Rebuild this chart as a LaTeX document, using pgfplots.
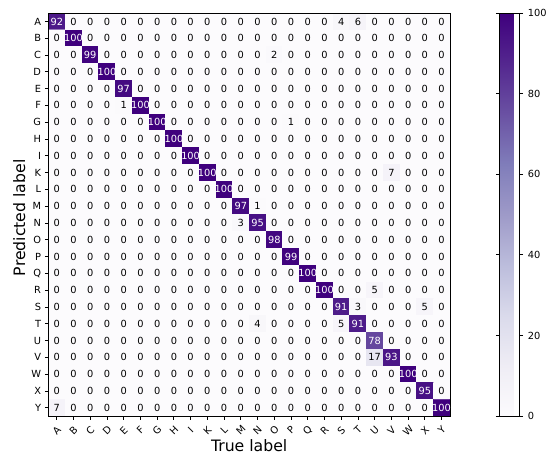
\documentclass[border=0pt]{standalone}
\usepackage{fontspec}
\setmainfont{DejaVu Sans}
\usepackage{pgfplots}
\pgfplotsset{compat=1.18}

\pgfplotsset{
  colormap={purples}{rgb255(0)=(252,251,253) rgb255(1)=(239,237,245)
    rgb255(2)=(218,218,235) rgb255(3)=(188,189,220) rgb255(4)=(158,154,200)
    rgb255(5)=(128,125,186) rgb255(6)=(106,81,163) rgb255(7)=(84,39,143)
    rgb255(8)=(63,0,125)},
  cell text/.style={draw=none, no markers, point meta=explicit symbolic,
    nodes near coords,
    nodes near coords style={anchor=center, inner sep=0pt, text=#1,
      font=\fontsize{10}{11}\selectfont}},
}

% confusion matrix: x = true label index, y = predicted label index, v = count
\pgfplotstableread[row sep=\\]{
x y v\\
0 0 92\\ 1 0 0\\ 2 0 0\\ 3 0 0\\ 4 0 0\\ 5 0 0\\ 6 0 0\\ 7 0 0\\ 8 0 0\\ 9 0 0\\ 10 0 0\\ 11 0 0\\ 12 0 0\\ 13 0 0\\ 14 0 0\\ 15 0 0\\ 16 0 0\\ 17 0 4\\ 18 0 6\\ 19 0 0\\ 20 0 0\\ 21 0 0\\ 22 0 0\\ 23 0 0\\
0 1 0\\ 1 1 100\\ 2 1 0\\ 3 1 0\\ 4 1 0\\ 5 1 0\\ 6 1 0\\ 7 1 0\\ 8 1 0\\ 9 1 0\\ 10 1 0\\ 11 1 0\\ 12 1 0\\ 13 1 0\\ 14 1 0\\ 15 1 0\\ 16 1 0\\ 17 1 0\\ 18 1 0\\ 19 1 0\\ 20 1 0\\ 21 1 0\\ 22 1 0\\ 23 1 0\\
0 2 0\\ 1 2 0\\ 2 2 99\\ 3 2 0\\ 4 2 0\\ 5 2 0\\ 6 2 0\\ 7 2 0\\ 8 2 0\\ 9 2 0\\ 10 2 0\\ 11 2 0\\ 12 2 0\\ 13 2 2\\ 14 2 0\\ 15 2 0\\ 16 2 0\\ 17 2 0\\ 18 2 0\\ 19 2 0\\ 20 2 0\\ 21 2 0\\ 22 2 0\\ 23 2 0\\
0 3 0\\ 1 3 0\\ 2 3 0\\ 3 3 100\\ 4 3 0\\ 5 3 0\\ 6 3 0\\ 7 3 0\\ 8 3 0\\ 9 3 0\\ 10 3 0\\ 11 3 0\\ 12 3 0\\ 13 3 0\\ 14 3 0\\ 15 3 0\\ 16 3 0\\ 17 3 0\\ 18 3 0\\ 19 3 0\\ 20 3 0\\ 21 3 0\\ 22 3 0\\ 23 3 0\\
0 4 0\\ 1 4 0\\ 2 4 0\\ 3 4 0\\ 4 4 97\\ 5 4 0\\ 6 4 0\\ 7 4 0\\ 8 4 0\\ 9 4 0\\ 10 4 0\\ 11 4 0\\ 12 4 0\\ 13 4 0\\ 14 4 0\\ 15 4 0\\ 16 4 0\\ 17 4 0\\ 18 4 0\\ 19 4 0\\ 20 4 0\\ 21 4 0\\ 22 4 0\\ 23 4 0\\
0 5 0\\ 1 5 0\\ 2 5 0\\ 3 5 0\\ 4 5 1\\ 5 5 100\\ 6 5 0\\ 7 5 0\\ 8 5 0\\ 9 5 0\\ 10 5 0\\ 11 5 0\\ 12 5 0\\ 13 5 0\\ 14 5 0\\ 15 5 0\\ 16 5 0\\ 17 5 0\\ 18 5 0\\ 19 5 0\\ 20 5 0\\ 21 5 0\\ 22 5 0\\ 23 5 0\\
0 6 0\\ 1 6 0\\ 2 6 0\\ 3 6 0\\ 4 6 0\\ 5 6 0\\ 6 6 100\\ 7 6 0\\ 8 6 0\\ 9 6 0\\ 10 6 0\\ 11 6 0\\ 12 6 0\\ 13 6 0\\ 14 6 1\\ 15 6 0\\ 16 6 0\\ 17 6 0\\ 18 6 0\\ 19 6 0\\ 20 6 0\\ 21 6 0\\ 22 6 0\\ 23 6 0\\
0 7 0\\ 1 7 0\\ 2 7 0\\ 3 7 0\\ 4 7 0\\ 5 7 0\\ 6 7 0\\ 7 7 100\\ 8 7 0\\ 9 7 0\\ 10 7 0\\ 11 7 0\\ 12 7 0\\ 13 7 0\\ 14 7 0\\ 15 7 0\\ 16 7 0\\ 17 7 0\\ 18 7 0\\ 19 7 0\\ 20 7 0\\ 21 7 0\\ 22 7 0\\ 23 7 0\\
0 8 0\\ 1 8 0\\ 2 8 0\\ 3 8 0\\ 4 8 0\\ 5 8 0\\ 6 8 0\\ 7 8 0\\ 8 8 100\\ 9 8 0\\ 10 8 0\\ 11 8 0\\ 12 8 0\\ 13 8 0\\ 14 8 0\\ 15 8 0\\ 16 8 0\\ 17 8 0\\ 18 8 0\\ 19 8 0\\ 20 8 0\\ 21 8 0\\ 22 8 0\\ 23 8 0\\
0 9 0\\ 1 9 0\\ 2 9 0\\ 3 9 0\\ 4 9 0\\ 5 9 0\\ 6 9 0\\ 7 9 0\\ 8 9 0\\ 9 9 100\\ 10 9 0\\ 11 9 0\\ 12 9 0\\ 13 9 0\\ 14 9 0\\ 15 9 0\\ 16 9 0\\ 17 9 0\\ 18 9 0\\ 19 9 0\\ 20 9 7\\ 21 9 0\\ 22 9 0\\ 23 9 0\\
0 10 0\\ 1 10 0\\ 2 10 0\\ 3 10 0\\ 4 10 0\\ 5 10 0\\ 6 10 0\\ 7 10 0\\ 8 10 0\\ 9 10 0\\ 10 10 100\\ 11 10 0\\ 12 10 0\\ 13 10 0\\ 14 10 0\\ 15 10 0\\ 16 10 0\\ 17 10 0\\ 18 10 0\\ 19 10 0\\ 20 10 0\\ 21 10 0\\ 22 10 0\\ 23 10 0\\
0 11 0\\ 1 11 0\\ 2 11 0\\ 3 11 0\\ 4 11 0\\ 5 11 0\\ 6 11 0\\ 7 11 0\\ 8 11 0\\ 9 11 0\\ 10 11 0\\ 11 11 97\\ 12 11 1\\ 13 11 0\\ 14 11 0\\ 15 11 0\\ 16 11 0\\ 17 11 0\\ 18 11 0\\ 19 11 0\\ 20 11 0\\ 21 11 0\\ 22 11 0\\ 23 11 0\\
0 12 0\\ 1 12 0\\ 2 12 0\\ 3 12 0\\ 4 12 0\\ 5 12 0\\ 6 12 0\\ 7 12 0\\ 8 12 0\\ 9 12 0\\ 10 12 0\\ 11 12 3\\ 12 12 95\\ 13 12 0\\ 14 12 0\\ 15 12 0\\ 16 12 0\\ 17 12 0\\ 18 12 0\\ 19 12 0\\ 20 12 0\\ 21 12 0\\ 22 12 0\\ 23 12 0\\
0 13 0\\ 1 13 0\\ 2 13 0\\ 3 13 0\\ 4 13 0\\ 5 13 0\\ 6 13 0\\ 7 13 0\\ 8 13 0\\ 9 13 0\\ 10 13 0\\ 11 13 0\\ 12 13 0\\ 13 13 98\\ 14 13 0\\ 15 13 0\\ 16 13 0\\ 17 13 0\\ 18 13 0\\ 19 13 0\\ 20 13 0\\ 21 13 0\\ 22 13 0\\ 23 13 0\\
0 14 0\\ 1 14 0\\ 2 14 0\\ 3 14 0\\ 4 14 0\\ 5 14 0\\ 6 14 0\\ 7 14 0\\ 8 14 0\\ 9 14 0\\ 10 14 0\\ 11 14 0\\ 12 14 0\\ 13 14 0\\ 14 14 99\\ 15 14 0\\ 16 14 0\\ 17 14 0\\ 18 14 0\\ 19 14 0\\ 20 14 0\\ 21 14 0\\ 22 14 0\\ 23 14 0\\
0 15 0\\ 1 15 0\\ 2 15 0\\ 3 15 0\\ 4 15 0\\ 5 15 0\\ 6 15 0\\ 7 15 0\\ 8 15 0\\ 9 15 0\\ 10 15 0\\ 11 15 0\\ 12 15 0\\ 13 15 0\\ 14 15 0\\ 15 15 100\\ 16 15 0\\ 17 15 0\\ 18 15 0\\ 19 15 0\\ 20 15 0\\ 21 15 0\\ 22 15 0\\ 23 15 0\\
0 16 0\\ 1 16 0\\ 2 16 0\\ 3 16 0\\ 4 16 0\\ 5 16 0\\ 6 16 0\\ 7 16 0\\ 8 16 0\\ 9 16 0\\ 10 16 0\\ 11 16 0\\ 12 16 0\\ 13 16 0\\ 14 16 0\\ 15 16 0\\ 16 16 100\\ 17 16 0\\ 18 16 0\\ 19 16 5\\ 20 16 0\\ 21 16 0\\ 22 16 0\\ 23 16 0\\
0 17 0\\ 1 17 0\\ 2 17 0\\ 3 17 0\\ 4 17 0\\ 5 17 0\\ 6 17 0\\ 7 17 0\\ 8 17 0\\ 9 17 0\\ 10 17 0\\ 11 17 0\\ 12 17 0\\ 13 17 0\\ 14 17 0\\ 15 17 0\\ 16 17 0\\ 17 17 91\\ 18 17 3\\ 19 17 0\\ 20 17 0\\ 21 17 0\\ 22 17 5\\ 23 17 0\\
0 18 0\\ 1 18 0\\ 2 18 0\\ 3 18 0\\ 4 18 0\\ 5 18 0\\ 6 18 0\\ 7 18 0\\ 8 18 0\\ 9 18 0\\ 10 18 0\\ 11 18 0\\ 12 18 4\\ 13 18 0\\ 14 18 0\\ 15 18 0\\ 16 18 0\\ 17 18 5\\ 18 18 91\\ 19 18 0\\ 20 18 0\\ 21 18 0\\ 22 18 0\\ 23 18 0\\
0 19 0\\ 1 19 0\\ 2 19 0\\ 3 19 0\\ 4 19 0\\ 5 19 0\\ 6 19 0\\ 7 19 0\\ 8 19 0\\ 9 19 0\\ 10 19 0\\ 11 19 0\\ 12 19 0\\ 13 19 0\\ 14 19 0\\ 15 19 0\\ 16 19 0\\ 17 19 0\\ 18 19 0\\ 19 19 78\\ 20 19 0\\ 21 19 0\\ 22 19 0\\ 23 19 0\\
0 20 0\\ 1 20 0\\ 2 20 0\\ 3 20 0\\ 4 20 0\\ 5 20 0\\ 6 20 0\\ 7 20 0\\ 8 20 0\\ 9 20 0\\ 10 20 0\\ 11 20 0\\ 12 20 0\\ 13 20 0\\ 14 20 0\\ 15 20 0\\ 16 20 0\\ 17 20 0\\ 18 20 0\\ 19 20 17\\ 20 20 93\\ 21 20 0\\ 22 20 0\\ 23 20 0\\
0 21 0\\ 1 21 0\\ 2 21 0\\ 3 21 0\\ 4 21 0\\ 5 21 0\\ 6 21 0\\ 7 21 0\\ 8 21 0\\ 9 21 0\\ 10 21 0\\ 11 21 0\\ 12 21 0\\ 13 21 0\\ 14 21 0\\ 15 21 0\\ 16 21 0\\ 17 21 0\\ 18 21 0\\ 19 21 0\\ 20 21 0\\ 21 21 100\\ 22 21 0\\ 23 21 0\\
0 22 0\\ 1 22 0\\ 2 22 0\\ 3 22 0\\ 4 22 0\\ 5 22 0\\ 6 22 0\\ 7 22 0\\ 8 22 0\\ 9 22 0\\ 10 22 0\\ 11 22 0\\ 12 22 0\\ 13 22 0\\ 14 22 0\\ 15 22 0\\ 16 22 0\\ 17 22 0\\ 18 22 0\\ 19 22 0\\ 20 22 0\\ 21 22 0\\ 22 22 95\\ 23 22 0\\
0 23 7\\ 1 23 0\\ 2 23 0\\ 3 23 0\\ 4 23 0\\ 5 23 0\\ 6 23 0\\ 7 23 0\\ 8 23 0\\ 9 23 0\\ 10 23 0\\ 11 23 0\\ 12 23 0\\ 13 23 0\\ 14 23 0\\ 15 23 0\\ 16 23 0\\ 17 23 0\\ 18 23 0\\ 19 23 0\\ 20 23 0\\ 21 23 0\\ 22 23 0\\ 23 23 100\\
}\cm

\begin{document}
\begin{tikzpicture}
\begin{axis}[
  name=cm,
  scale only axis, width=409pt, height=410.5pt,
  at={(0,0)}, anchor=south west,
  xmin=-0.5, xmax=23.5, ymin=-0.5, ymax=23.5,
  y dir=reverse,
  axis on top,
  axis line style={black, line width=0.8pt},
  tick style={black, line width=0.8pt},
  major tick length=3.5pt,
  tick align=outside, tick pos=left,
  xtick={0,...,23}, ytick={0,...,23},
  xticklabels={A,B,C,D,E,F,G,H,I,K,L,M,N,O,P,Q,R,S,T,U,V,W,X,Y},
  yticklabels={A,B,C,D,E,F,G,H,I,K,L,M,N,O,P,Q,R,S,T,U,V,W,X,Y},
  tick label style={font=\fontsize{10}{11}\selectfont},
  x tick label style={rotate=45, anchor=center},
  xticklabel shift=11pt,
  y tick label style={anchor=east},
  yticklabel shift=0.5pt,
  xlabel={True label}, ylabel={Predicted label},
  label style={font=\fontsize{16}{18}\selectfont},
  xlabel style={at={(axis description cs:0.5,-0.073)}, anchor=center},
  ylabel style={at={(axis description cs:-0.0726,0.492)}, anchor=center},
  colormap name=purples,
  point meta min=0, point meta max=100,
  colorbar,
  colorbar style={
    at={(parent axis.north east)}, anchor=north west, xshift=41.7pt,
    scale only axis, width=20.7pt, height=410.5pt,
    ytick={0,20,40,60,80,100},
    yticklabel pos=right,
    tick align=outside,
    major tick length=3.5pt,
    tick style={black, line width=0.8pt},
    axis line style={black, line width=0.8pt},
    yticklabel style={font=\fontsize{10}{11}\selectfont, xshift=1.5pt},
    /pgf/number format/assume math mode=true,
  },
]
\addplot[matrix plot*, mesh/cols=24, point meta=explicit]
  table[x=x, y=y, meta=v] {\cm};
% counts above half the scale are written in white, the rest in black
\addplot[cell text=white, restrict expr to domain={\thisrow{v}}{51:1000}]
  table[x=x, y=y, meta=v] {\cm};
\addplot[cell text=black, restrict expr to domain={\thisrow{v}}{0:50}]
  table[x=x, y=y, meta=v] {\cm};
\end{axis}
\path (-49.3pt,-44pt) rectangle (500.7pt,423.8pt);
\end{tikzpicture}
\end{document}
